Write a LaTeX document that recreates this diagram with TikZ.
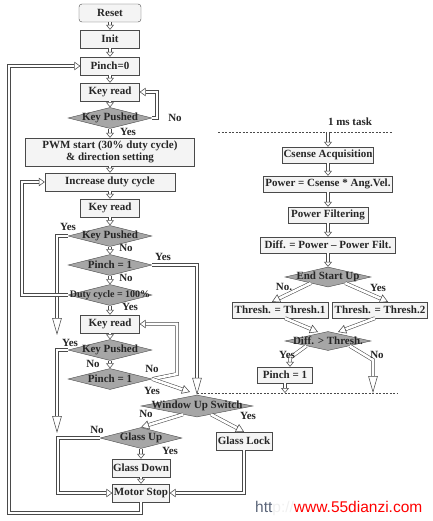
\documentclass[tikz,border=0pt]{standalone}
\usepackage{fontspec}
\setmainfont{Liberation Serif}
\newfontfamily\webfont{Liberation Sans}
\usetikzlibrary{arrows.meta,positioning,calc,shapes.geometric}

\definecolor{edge}{HTML}{4A4A4A}
\definecolor{boxfill}{HTML}{F4F4F4}
\definecolor{decfill}{HTML}{A6A6A6}
\definecolor{slate}{HTML}{5A6478}

\tikzset{
  txt/.style={font=\bfseries\fontsize{11}{12.5}\selectfont, text=black!85},
  blk/.style={txt, draw=edge, fill=boxfill, rectangle, minimum height=18pt, inner sep=1pt},
  rblk/.style={blk, minimum height=16pt},
  dec/.style={draw=edge, fill=decfill, diamond, inner sep=0pt, minimum width=84pt, minimum height=21pt},
  dectxt/.style={txt, inner sep=0pt},
  lbl/.style={txt, inner sep=0pt},
  dbl/.style={draw=edge, line width=0.55pt, double=white, double distance=2.6pt, line join=miter},
  sarr/.style={dbl, -{Triangle[open, length=5pt, width=8pt, line width=0.55pt]}},
  larr/.style={dbl, -{Triangle[open, length=17pt, width=9.5pt, line width=0.55pt]}},
  warr/.style={dbl, -{Triangle[open, length=6pt, width=8.5pt, line width=0.55pt]}},
  darr/.style={dbl, -{Triangle[open, length=8pt, width=9pt, line width=0.55pt]}},
  task/.style={draw=edge, line width=0.6pt, dash pattern=on 2pt off 1.5pt},
}

\begin{document}
\begin{tikzpicture}[x=1pt, y=-1pt]
      \useasboundingbox (0,0) rectangle (432,521);

      % main loop
      \node[blk, rounded corners=3pt, minimum width=62pt] (reset) at (110,13) {Reset};
      \node[blk, minimum width=59pt] (init)   at (110,39) {Init};
      \node[blk, minimum width=59pt] (pinch0) at (110,66) {Pinch=0};
      \node[blk, minimum width=59pt] (kr1)    at (110,92) {Key read};
      \node[dec, label={[dectxt]center:Key Pushed}] (kp1) at (110,118) {};
      \node[blk, minimum width=169pt, minimum height=28pt, align=center] (pwm) at (110,152) {PWM start (30\% duty cycle)\\\& direction setting};
      \node[blk, minimum width=130pt] (inc) at (110,182) {Increase duty cycle};
      \node[blk, minimum width=59pt] (kr2) at (110,208) {Key read};
      \node[dec, label={[dectxt]center:Key Pushed}] (kp2) at (110,236) {};
      \node[dec, label={[dectxt]center:Pinch = 1}] (pi1) at (110,265) {};
      \node[dec, label={[dectxt, font=\bfseries\fontsize{10}{11}\selectfont]center:Duty cycle = 100\%}] (dc) at (110,295) {};
      \node[blk, minimum width=59pt] (kr3) at (110,324) {Key read};
      \node[dec, label={[dectxt]center:Key Pushed}] (kp3) at (110,350) {};
      \node[dec, label={[dectxt]center:Pinch = 1}] (pi2) at (110,379) {};

      \node[dec, minimum width=112pt, minimum height=22pt, label={[dectxt]center:Window Up Switch}] (wus) at (197,406) {};
      \node[dec, minimum width=82pt, label={[dectxt]center:Glass Up}] (gu) at (141,438) {};
      \node[blk, minimum width=57pt] (gd) at (141,468) {Glass Down};
      \node[blk, minimum width=57pt] (ms) at (141,493) {Motor Stop};
      \node[blk, minimum width=56pt] (gl) at (244,441) {Glass Lock};

      % 1 ms task
      \coordinate (tl) at (218,132);
      \coordinate (tr) at (393,132);
      \coordinate (bl) at (197,393);
      \coordinate (br) at (397,393);
      \node[lbl] (tasklbl) at (350,122) {1 ms task};
      \node[rblk, minimum width=91pt]  (ca)  at (328,155) {Csense Acquisition};
      \node[rblk, minimum width=129pt] (pw)  at (328,184) {Power = Csense * Ang.Vel.};
      \node[rblk, minimum width=80pt]  (pf)  at (328,215) {Power Filtering};
      \node[rblk, minimum width=135pt] (df)  at (328,245) {Diff. = Power -- Power Filt.};
      \node[dec, minimum width=86pt, minimum height=20pt, label={[dectxt]center:End Start Up}] (esu) at (328,277) {};
      \node[rblk, minimum width=96pt]  (th1) at (280,310) {Thresh. = Thresh.1};
      \node[rblk, minimum width=95pt]  (th2) at (380,310) {Thresh. = Thresh.2};
      \node[dec, minimum width=86pt, minimum height=19pt, label={[dectxt]center:Diff. > Thresh.}] (dt) at (328,341) {};
      \node[rblk, minimum width=55pt]  (pi3) at (285,375) {Pinch = 1};

      \draw[task] (tl) -- (tr);
      \draw[task] (bl) -- (br);

      % straight steps
      \draw[sarr] (reset) -- (init);
      \draw[sarr] (init) -- (pinch0);
      \draw[sarr] (pinch0) -- (kr1);
      \draw[sarr] (kr1) -- (kp1);
      \draw[sarr] (kp1) -- (pwm);
      \draw[sarr] (pwm) -- (inc);
      \draw[sarr] (inc) -- (kr2);
      \draw[sarr] (kr2) -- (kp2);
      \draw[sarr] (kp2) -- (pi1);
      \draw[sarr] (pi1) -- (dc);
      \draw[sarr] (dc) -- (kr3);
      \draw[sarr] (kr3) -- (kp3);
      \draw[sarr] (kp3) -- (pi2);
      \draw[sarr] (gu) -- (gd);
      \draw[sarr] (gd) -- (ms);

      \draw[sarr] (ca.north |- tl) -- (ca.north);
      \draw[sarr] (ca) -- (pw);
      \draw[sarr] (pw) -- (pf);
      \draw[sarr] (pf) -- (df);
      \draw[sarr] (df) -- (esu);
      \draw[sarr] (pi3.south) -- (pi3.south |- br);

      % loops and branches
      \draw[warr] (kp1.east) -- (157,118) |- (kr1.east);
      \draw[larr] (kp2.west) -| (57,335);
      \draw[larr] (pi1.east) -| (wus.north);
      \draw[warr] (dc.west) -- (22,295) |- (inc.west);
      \draw[larr] (kp3.west) -| (57,433);
      \draw[warr] (pi2.east) -- (177,374) |- (kr3.east);
      \draw[darr] (pi2.east) -- (190,392);
      \draw[darr] ($(wus.west)!.75!(wus.south)$) -- (gu.north);
      \draw[darr] ($(wus.east)!.75!(wus.south)$) -- (gl.north);
      \draw[warr] (gu.west) -- (58,438) |- (ms.west);
      \draw[warr] (gl.south) |- (ms.east);
      \draw[warr] (ms.south) |- (9,513) |- (pinch0.west);

      \draw[darr] ($(esu.west)!.6!(esu.south)$) -- ($(th1.north)+(-8,0)$);
      \draw[darr] ($(esu.east)!.6!(esu.south)$) -- ($(th2.north)+(8,0)$);
      \draw[darr] ($(th1.south)+(5,0)$) -- (318,332);
      \draw[darr] ($(th2.south)+(-5,0)$) -- (338,332);
      \draw[sarr] ($(dt.west)!.5!(dt.south)$) -- ($(pi3.north)+(5,-9)$) -- ($(pi3.north)+(5,0)$);
      \draw[larr] ($(dt.east)!.5!(dt.south)$) -- (373,360) -- (373,393);

      % branch labels
      \node[lbl] (no1)  at (175,118) {No};
      \node[lbl] (yes1) at (128,132) {Yes};
      \node[lbl] (yes2) at (68,227)  {Yes};
      \node[lbl] (no2)  at (126,248) {No};
      \node[lbl] (yes3) at (163,257) {Yes};
      \node[lbl] (no3)  at (126,278) {No};
      \node[lbl] (yes4) at (130,307) {Yes};
      \node[lbl] (yes5) at (70,343)  {Yes};
      \node[lbl] (no5)  at (93,364)  {No};
      \node[lbl] (no6)  at (152,369) {No};
      \node[lbl] (yes6) at (152,391) {Yes};
      \node[lbl] (no7)  at (146,414) {No};
      \node[lbl] (yes7) at (248,416) {Yes};
      \node[lbl] (no8)  at (97,430)  {No};
      \node[lbl] (yes8) at (170,451) {Yes};
      \node[lbl] (no9)  at (284,287) {No.};
      \node[lbl] (yes9) at (378,288) {Yes};
      \node[lbl] (yes10) at (287,355) {Yes};
      \node[lbl] (no10) at (377,355) {No};

      \node[font=\webfont\fontsize{15.5}{16}\selectfont, anchor=west, inner sep=0pt] (web) at (255,508)
        {{\color{slate}htt}{\color{black!6}p://}{\color{red}www.55dianzi.com}};

    \end{tikzpicture}
\end{document}
